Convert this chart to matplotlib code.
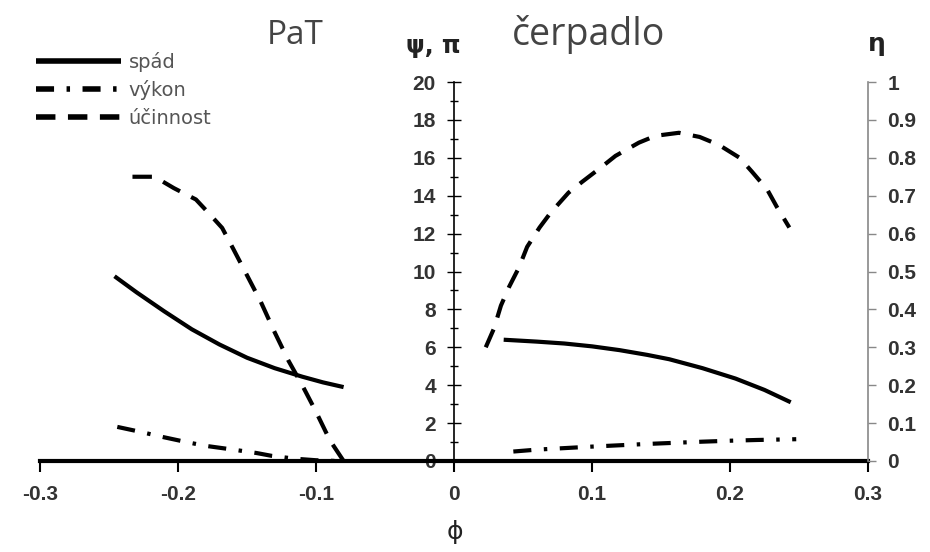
import matplotlib.pyplot as plt
import numpy as np
from matplotlib.ticker import MultipleLocator

plt.rcParams['font.family'] = ['Liberation Sans', 'DejaVu Sans']
plt.rcParams['lines.scale_dashes'] = False

# PaT branch (negative phi)
phi_spad_pat = [-0.246, -0.23, -0.21, -0.19, -0.17, -0.15, -0.13, -0.11, -0.095, -0.08]
spad_pat = [9.75, 8.9, 7.9, 6.95, 6.15, 5.45, 4.9, 4.45, 4.15, 3.9]
phi_vykon_pat = [-0.244, -0.228, -0.21, -0.194, -0.18, -0.16, -0.143, -0.132, -0.115, -0.10, -0.085]
vykon_pat = [1.8, 1.55, 1.25, 1.0, 0.8, 0.6, 0.42, 0.27, 0.12, 0.04, 0.0]
phi_eta_pat = [-0.233, -0.217, -0.203, -0.187, -0.178, -0.168, -0.16, -0.15, -0.14,
               -0.13, -0.12, -0.11, -0.10, -0.09, -0.08]
eta_pat = [0.75, 0.75, 0.72, 0.69, 0.655, 0.615, 0.56, 0.49, 0.42,
           0.34, 0.265, 0.2, 0.13, 0.055, 0.0]

# pump branch (positive phi)
phi_spad_pump = [0.036, 0.06, 0.08, 0.10, 0.12, 0.14, 0.156, 0.18, 0.204, 0.225, 0.244]
spad_pump = [6.4, 6.3, 6.2, 6.05, 5.85, 5.6, 5.37, 4.9, 4.35, 3.75, 3.1]
phi_vykon_pump = [0.043, 0.06, 0.08, 0.10, 0.12, 0.14, 0.16, 0.18, 0.20, 0.22, 0.248]
vykon_pump = [0.5, 0.6, 0.68, 0.76, 0.83, 0.9, 0.96, 1.02, 1.07, 1.11, 1.15]
phi_eta_pump = [0.023, 0.029, 0.034, 0.040, 0.047, 0.053, 0.062, 0.070, 0.083, 0.093, 0.107,
                0.117, 0.134, 0.146, 0.163, 0.178, 0.192, 0.207, 0.216, 0.227, 0.234, 0.243]
eta_pump = [0.30, 0.35, 0.41, 0.46, 0.51, 0.565, 0.616, 0.655, 0.708, 0.737, 0.776,
            0.805, 0.84, 0.858, 0.866, 0.855, 0.834, 0.80, 0.763, 0.716, 0.67, 0.616]

x_ticks = [-0.3, -0.2, -0.1, 0, 0.1, 0.2, 0.3]
x_labels = ['-0.3', '-0.2', '-0.1', '0', '0.1', '0.2', '0.3']
eta_ticks = [0, 0.1, 0.2, 0.3, 0.4, 0.5, 0.6, 0.7, 0.8, 0.9, 1]
eta_labels = ['0', '0.1', '0.2', '0.3', '0.4', '0.5', '0.6', '0.7', '0.8', '0.9', '1']

fig = plt.figure(figsize=(9.3, 5.52), dpi=100)
ax = fig.add_axes([40/930, 91/552, 828/930, 379/552])
ax.set_xlim(-0.3, 0.3)
ax.set_ylim(0, 20)

ax.spines['left'].set_position(('data', 0))
ax.spines['top'].set_visible(False)
ax.spines['right'].set_visible(False)
ax.spines['bottom'].set_linewidth(3)
ax.spines['left'].set_linewidth(1.2)

tick_font = {'size': 15, 'weight': 'bold'}
ax.set_xticks(x_ticks)
ax.set_xticklabels(x_labels, fontdict=tick_font)
ax.tick_params(axis='x', direction='out', length=8, width=1.5, pad=9, labelcolor='#333')
ax.set_yticks(range(0, 21, 2))
ax.set_yticklabels([str(v) for v in range(0, 21, 2)], fontdict=tick_font)
ax.yaxis.set_minor_locator(MultipleLocator(1))
ax.tick_params(axis='y', which='major', direction='inout', length=10, width=1, pad=8, labelcolor='#333')
ax.tick_params(axis='y', which='minor', direction='inout', length=6, width=1)

lw = 3
dashdot = (0, (13, 9, 2.5, 9))
dashed = (0, (14, 9))
l1, = ax.plot(phi_spad_pat, spad_pat, color='black', lw=lw, label='spád', solid_capstyle='butt')
ax.plot(phi_spad_pump, spad_pump, color='black', lw=lw, solid_capstyle='butt')
l2, = ax.plot(phi_vykon_pat, vykon_pat, color='black', lw=lw, ls=dashdot, label='výkon')
ax.plot(phi_vykon_pump, vykon_pump, color='black', lw=lw, ls=dashdot)

ax2 = ax.twinx()
ax2.set_ylim(0, 1)
for s in ['left', 'top', 'bottom']:
    ax2.spines[s].set_visible(False)
ax2.spines['right'].set_color('#888')
ax2.spines['right'].set_linewidth(1.2)
ax2.set_yticks(eta_ticks)
ax2.set_yticklabels(eta_labels, fontdict=tick_font)
ax2.tick_params(axis='y', direction='out', length=6, width=1, color='#888', pad=8, labelcolor='#333')
l3, = ax2.plot(phi_eta_pat, eta_pat, color='black', lw=lw, ls=dashed, label='účinnost')
ax2.plot(phi_eta_pump, eta_pump, color='black', lw=lw, ls=dashed)

leg = fig.legend(handles=[l1, l2, l3], loc='upper left', bbox_to_anchor=(18/930, 1 - 34/552),
                 frameon=False, handlelength=4.4, labelcolor='#555',
                 prop={'family': 'DejaVu Sans', 'size': 14}, labelspacing=0.45, handletextpad=0.4)
for h in leg.legend_handles:
    h.set_linewidth(4)

fig.text(295/930, 1 - 36/552, 'PaT', ha='center', va='center', fontsize=24, color='#444', family='Open Sans')
fig.text(589/930, 1 - 34/552, 'čerpadlo', ha='center', va='center', fontsize=27, color='#444', family='Open Sans')
fig.text(433/930, 1 - 46/552, 'ψ, π', ha='center', va='center', fontsize=17, fontweight='bold', color='#222', family='DejaVu Sans')
fig.text(877/930, 1 - 44/552, 'η', ha='center', va='center', fontsize=18, fontweight='bold', color='#222', family='DejaVu Sans')
fig.text(455/930, 1 - 532/552, 'ϕ', ha='center', va='center', fontsize=18, color='#222', family='DejaVu Sans')

fig.savefig('out.png', dpi=100)
